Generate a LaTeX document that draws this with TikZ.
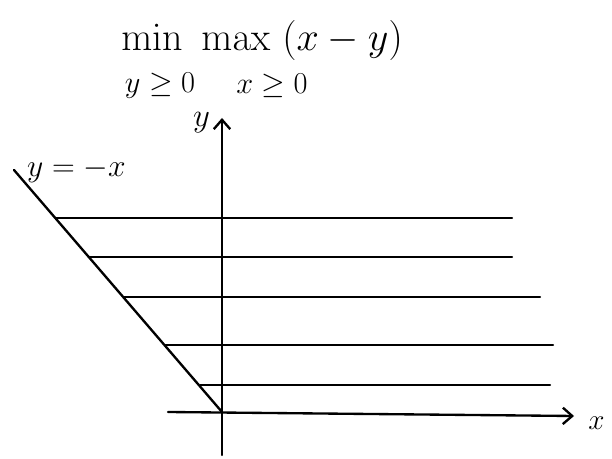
\documentclass[tikz,border=0pt]{standalone}
\usepackage{amsmath,amssymb}
\usepackage{tikz}
\usetikzlibrary{arrows.meta,positioning}
\newcommand{\sketchtxt}[2]{\scalebox{#1}{\huge #2}}

\begin{document}
\begin{tikzpicture}[x=0.03cm,y=-0.03cm,line width=2pt,
    pen/.style={line width=2pt,line cap=round},
    axis/.style={pen,-{Straight Barb[length=8pt,width=14pt]}}]
    \useasboundingbox (0,0) rectangle (612,459);
    \node (title) at (262,40) {\sketchtxt{1.65}{$\min\ \max\ (x-y)$}};
    \node (ypos) at (160,86) {\sketchtxt{1.25}{$y\geq 0$}};
    \node (xpos) at (272,86) {\sketchtxt{1.25}{$x\geq 0$}};
    \coordinate (O) at (222,412);
    \coordinate (ybot) at (222,455);
    \coordinate (ytop) at (222,118);
    \coordinate (xleft) at (168,412);
    \coordinate (xright) at (574,416);
    \coordinate (dtop) at (14,170);
    \draw[axis] (ybot) -- (ytop);
    \draw[axis] (xleft) -- (xright);
    \node[left=6pt of ytop,yshift=-4pt] (ylab) {\sketchtxt{1.35}{$y$}};
    \node[right=8pt of xright,yshift=-6pt] (xlab) {\sketchtxt{1.2}{$x$}};
    \draw[pen] (dtop) -- (O);
    \node[anchor=south west] (dlab) at (22,188) {\sketchtxt{1.3}{$y=-x$}};
    \foreach \y/\xr [count=\i] in {218/512,257/512,297/540,345/553,385/550} {
      \coordinate (l\i) at ({14+0.867*(\y-170)},\y);
      \coordinate (r\i) at (\xr,\y);
      \draw[pen] (l\i) -- (r\i);
    }
\end{tikzpicture}
\end{document}
